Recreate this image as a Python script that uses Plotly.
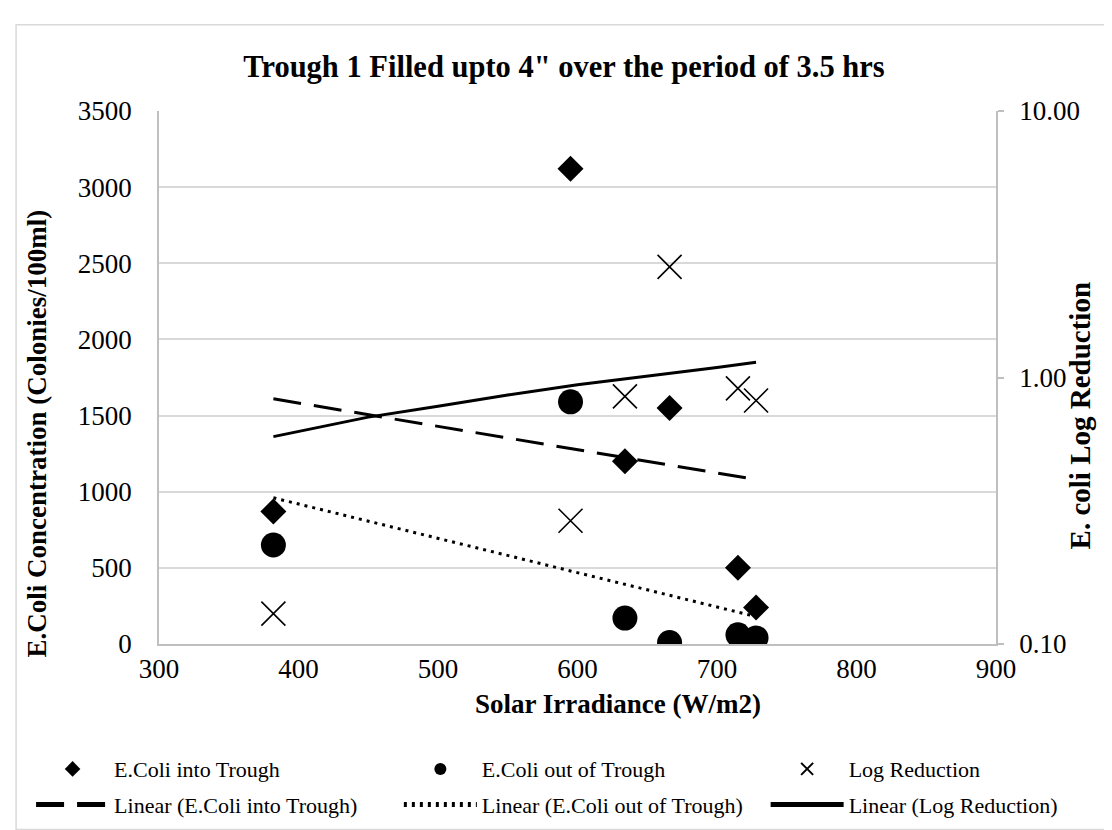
import plotly.graph_objects as go

# Solar irradiance (W/m2) for each sample
irradiance = [382, 595, 634, 666, 715, 728]

# E.Coli concentration (Colonies/100ml)
ecoli_in = [870, 3120, 1200, 1550, 500, 240]
ecoli_out = [650, 1590, 170, 10, 60, 40]

# Log reduction (right axis, log scale)
log_reduction = [0.13, 0.29, 0.85, 2.6, 0.91, 0.82]

# Trendlines
trend_x = [382, 728]
trend_in = [1610, 1080]
trend_out = [960, 180]
trend_log_x = [382, 450, 500, 550, 600, 650, 700, 728]
trend_log = [0.60, 0.71, 0.78, 0.86, 0.94, 1.01, 1.09, 1.14]

FONT = "Liberation Serif, Times New Roman, serif"
GRID = "#d9d9d9"
AXIS = "#bfbfbf"

# plot area in pixels
PL, PR, PT, PB = 151, 988.5, 103, 653.5
PW, PH = PR - PL, PB - PT


def px(x):
    return (x - PL) / PW


def py(y):
    return (PB - y) / PH


fig = go.Figure()

fig.add_trace(go.Scatter(
    x=irradiance, y=ecoli_in, mode="markers", name="E.Coli into Trough",
    legend="legend", legendgroup="a",
    marker=dict(symbol="diamond", size=20, color="black"),
))
fig.add_trace(go.Scatter(
    x=irradiance, y=ecoli_out, mode="markers", name="E.Coli out of Trough",
    legend="legend2", legendgroup="b",
    marker=dict(symbol="circle", size=25, color="black"),
))
fig.add_trace(go.Scatter(
    x=irradiance, y=log_reduction, mode="markers", name="Log Reduction",
    yaxis="y2", legend="legend3", legendgroup="c",
    marker=dict(symbol="x-thin-open", size=24, color="black",
                line=dict(width=1.6, color="black")),
))
fig.add_trace(go.Scatter(
    x=trend_x, y=trend_in, mode="lines", name="Linear (E.Coli into Trough)",
    legend="legend", legendgroup="d",
    line=dict(color="black", width=3, dash="28px,13px"),
))
fig.add_trace(go.Scatter(
    x=trend_x, y=trend_out, mode="lines", name="Linear (E.Coli out of Trough)",
    legend="legend2", legendgroup="e",
    line=dict(color="black", width=3, dash="3px,5px"),
))
fig.add_trace(go.Scatter(
    x=trend_log_x, y=trend_log, mode="lines", name="Linear (Log Reduction)",
    yaxis="y2", legend="legend3", legendgroup="f",
    line=dict(color="black", width=3),
))

# outer chart border
fig.add_shape(type="rect", xref="paper", yref="paper",
              x0=px(8), x1=px(1125), y0=py(845), y1=py(14),
              line=dict(color="#d9d9d9", width=1.5), layer="below")

# axis titles placed as in the original (offset from the axis centres)
title_font = dict(family=FONT, color="black")
fig.add_annotation(text="<b>E.Coli Concentration (Colonies/100ml)</b>",
                   x=px(29), y=py(436), xref="paper", yref="paper",
                   xanchor="center", yanchor="middle",
                   textangle=-90, showarrow=False, font=dict(size=27, **title_font))
fig.add_annotation(text="<b>E. coli Log Reduction</b>",
                   x=px(1073), y=py(418), xref="paper", yref="paper",
                   xanchor="center", yanchor="middle",
                   textangle=-90, showarrow=False, font=dict(size=29, **title_font))
fig.add_annotation(text="<b>Solar Irradiance (W/m2)</b>",
                   x=px(610), y=py(715), xref="paper", yref="paper",
                   xanchor="center", yanchor="middle",
                   showarrow=False, font=dict(size=27, **title_font))

legend_style = dict(
    orientation="v", xanchor="left", yanchor="top", y=py(761),
    font=dict(size=22, family=FONT), bgcolor="rgba(0,0,0,0)",
    itemwidth=73, tracegroupgap=4, itemsizing="constant",
)

fig.update_layout(
    width=1112, height=830,
    paper_bgcolor="white", plot_bgcolor="white",
    margin=dict(l=PL, r=1112 - PR, t=PT, b=830 - PB),
    font=dict(family=FONT, color="black", size=27),
    title=dict(text="<b>Trough 1 Filled upto 4\" over the period of 3.5 hrs</b>",
               x=0.5, xref="container", xanchor="center",
               y=1 - 58 / 830, yanchor="middle",
               font=dict(size=30.5, family=FONT)),
    xaxis=dict(
        range=[300, 900], dtick=100, showgrid=False, zeroline=False,
        showline=True, linecolor=AXIS, linewidth=1.5, ticks="",
        tickfont=dict(size=27), ticklabelstandoff=0,
    ),
    yaxis=dict(
        range=[0, 3500], dtick=500, showgrid=True, gridcolor=GRID, gridwidth=1.5,
        zeroline=False, showline=True, linecolor=AXIS, linewidth=1.5, ticks="",
        tickfont=dict(size=27), ticklabelstandoff=20,
    ),
    yaxis2=dict(
        type="log", range=[-1, 1], dtick=1, tickformat=".2f",
        overlaying="y", side="right", showgrid=False, zeroline=False,
        showline=True, linecolor=AXIS, linewidth=1.5,
        ticks="outside", ticklen=6, tickcolor=AXIS, tickwidth=1.5,
        tickfont=dict(size=27), ticklabelstandoff=10,
    ),
    legend=dict(x=px(23), **legend_style),
    legend2=dict(x=px(391), **legend_style),
    legend3=dict(x=px(758), **legend_style),
    showlegend=True,
)

fig.write_html("out.html")
